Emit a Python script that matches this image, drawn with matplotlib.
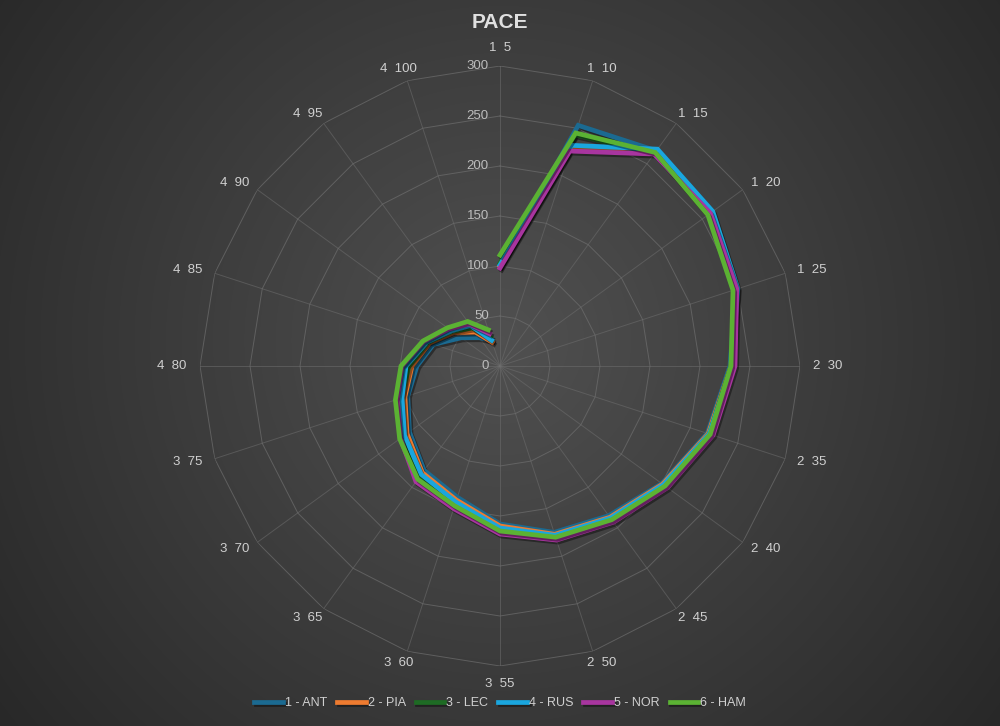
import numpy as np
import matplotlib.pyplot as plt
import matplotlib.patheffects as pe
from matplotlib.transforms import offset_copy

# categories (stint / lap)
labels = ["1  5", "1  10", "1  15", "1  20", "1  25", "2  30", "2  35", "2  40", "2  45", "2  50",
          "3  55", "3  60", "3  65", "3  70", "3  75", "4  80", "4  85", "4  90", "4  95", "4  100"]

ANT = [100, 253, 266, 259, 248, 230, 218, 200, 185, 175, 158, 138, 129, 112, 97, 83, 70, 48, 35, 27]
PIA = [100, 229, 264, 260, 248, 231, 219, 201, 187, 177, 160, 141, 132, 115, 100, 88, 74, 57, 42, 25]
LEC = [103, 243, 263, 258, 247, 231, 220, 203, 189, 179, 163, 144, 136, 119, 104, 91, 76, 59, 47, 30]
RUS = [101, 232, 268, 263, 250, 232, 220, 202, 188, 178, 162, 143, 134, 118, 103, 94, 77, 60, 50, 27]
NOR = [98, 226, 262, 260, 249, 235, 224, 207, 193, 183, 168, 150, 143, 123, 108, 98, 80, 63, 52, 34]
HAM = [111, 245, 264, 257, 245, 231, 221, 204, 190, 180, 165, 147, 140, 124, 110, 99, 81, 65, 55, 38]

series = [("1 - ANT", ANT, "#1b6a91"), ("2 - PIA", PIA, "#ee7b30"), ("3 - LEC", LEC, "#1e6b24"),
          ("4 - RUS", RUS, "#1aa6de"), ("5 - NOR", NOR, "#a8359f"), ("6 - HAM", HAM, "#5bb233")]
rticks = [0, 50, 100, 150, 200, 250, 300]

plt.rcParams['font.family'] = ['Liberation Sans', 'DejaVu Sans']
txt = '#d0d0d0'
grid = '#6e6e6e'

fig = plt.figure(figsize=(10, 7.26), dpi=100)

# radial grey background
bg = fig.add_axes([0, 0, 1, 1])
yy, xx = np.mgrid[0:726, 0:1000]
d = np.sqrt(((xx - 500) / 1000) ** 2 + ((yy - 340) / 1000) ** 2)
shade = np.clip(0.315 - 0.25 * d, 0.15, 0.315)
bg.imshow(np.dstack([shade] * 3), aspect='auto', interpolation='bilinear')
bg.axis('off')

ax = fig.add_axes([0.2, 60 / 726, 0.6, 600 / 726], projection='polar')
ax.set_facecolor('none')
ax.set_theta_zero_location('N')
ax.set_theta_direction(-1)
ax.set_ylim(0, 300)
ax.grid(False)
ax.spines['polar'].set_visible(False)
ax.set_xticks([])
ax.set_yticks([])

theta = np.linspace(0, 2 * np.pi, len(labels), endpoint=False)
ring = np.append(theta, theta[0])

# polygon grid + spokes
for r in rticks[1:]:
    ax.plot(ring, [r] * len(ring), color=grid, lw=0.7, alpha=0.7, zorder=1)
for t in theta:
    ax.plot([t, t], [0, 300], color=grid, lw=0.7, alpha=0.55, zorder=1)

# radial labels
lab_tr = offset_copy(ax.transData, fig=fig, x=-8, y=0, units='points')
for r in rticks:
    ax.text(0, r, str(r), transform=lab_tr, ha='right', va='center', color='#bdbdbd', fontsize=9.5)

# category labels: a bit wider horizontally, excel style
for t, lab in zip(theta, labels):
    dx = 16 * np.sin(t) * 0.72
    dy = 0.0
    if abs(np.cos(t)) > 0.99:
        dy = 6 * np.cos(t) * 0.72
    tr = offset_copy(ax.transData, fig=fig, x=dx, y=dy, units='points')
    ax.text(t, 312, lab, transform=tr, ha='center', va='center', color=txt, fontsize=9.5, clip_on=False)

for name, vals, col in series:
    ax.plot(theta, vals, color=col, lw=3.4, label=name, zorder=3, solid_joinstyle='miter',
            path_effects=[pe.SimpleLineShadow(offset=(1.2, -1.5), shadow_color='black', alpha=0.4),
                          pe.Normal()])

fig.text(0.5, 1 - 23 / 726, 'PACE', ha='center', va='center', fontsize=15, fontweight='bold', color='#e0e0e0')

leg = fig.legend(loc='center', bbox_to_anchor=(0.5, 1 - 703 / 726), ncol=6, frameon=False,
                 fontsize=9, handlelength=2.3, columnspacing=0.8, handletextpad=0.15)
for t in leg.get_texts():
    t.set_color(txt)

fig.savefig('out.png', dpi=100)
